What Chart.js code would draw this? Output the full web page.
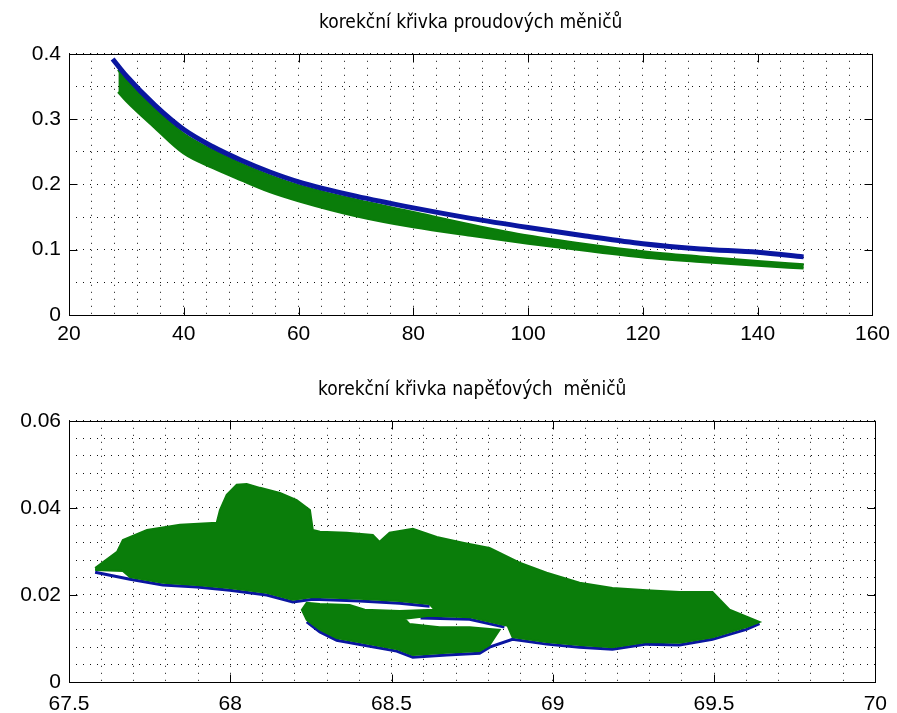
<!DOCTYPE html>
<html>
<head>
<meta charset="utf-8">
<script src="https://cdn.jsdelivr.net/npm/chart.js@4.4.0/dist/chart.umd.min.js"></script>
<style>
  body { margin: 0; background: #fff; }
  #wrap { position: relative; width: 897px; height: 713px; }
  canvas { position: absolute; left: 0; }
  #topChart { top: 0; }
  #bottomChart { top: 356px; }
</style>
</head>
<body>
<div id="wrap">
  <canvas id="topChart" width="897" height="356"></canvas>
  <canvas id="bottomChart" width="897" height="357"></canvas>
</div>
<script>
// ---- top plot: korekční křivka proudových měničů ----
var blueX = [27.6, 30, 35, 40, 45, 50, 55, 60, 70, 80, 90, 100, 110, 120, 130, 140, 148];
var blueY = [0.392, 0.366, 0.321, 0.284, 0.258, 0.237, 0.219, 0.204, 0.182, 0.164, 0.148, 0.134, 0.121, 0.109, 0.101, 0.096, 0.089];

// green band: upper and lower edge on the same x values
var greenX = [28.6, 30, 35, 40, 45, 50, 55, 60, 70, 80, 90, 100, 110, 120, 130, 140, 148];
var greenTopY = [0.376, 0.360, 0.314, 0.277, 0.252, 0.231, 0.213, 0.198, 0.176, 0.157, 0.138, 0.121, 0.108, 0.097, 0.089, 0.082, 0.077];
var greenBotY = [0.342, 0.328, 0.287, 0.248, 0.226, 0.207, 0.189, 0.175, 0.152, 0.135, 0.122, 0.110, 0.099, 0.089, 0.082, 0.076, 0.072];

var topXMajor = [20, 40, 60, 80, 100, 120, 140, 160];
var topYMajor = [0, 0.1, 0.2, 0.3, 0.4];

// ---- bottom plot: korekční křivka napěťových měničů ----
// outline of the green cloud; two notches run into the gaps between the lobes
var blobX = [67.581, 67.649, 67.667, 67.742, 67.844, 67.958, 67.968, 67.989, 68.020, 68.051, 68.092, 68.154, 68.206, 68.247,
  68.256, 68.278, 68.361, 68.442, 68.463, 68.494, 68.566, 68.640, 68.721, 68.804, 68.897, 68.981, 69.083, 69.185, 69.291,
  69.393, 69.495, 69.548, 69.641, 69.600, 69.495, 69.393, 69.291, 69.185, 69.083, 68.981, 68.875,
  68.860, 68.742, 68.618, 68.541, 68.556, 68.649, 68.742, 68.835,
  68.804, 68.773, 68.671, 68.566, 68.516, 68.411, 68.330, 68.278, 68.237, 68.222, 68.237,
  68.278, 68.370, 68.417, 68.525, 68.634, 68.618, 68.525, 68.401, 68.340,
  68.256, 68.194, 68.113, 67.999, 67.897, 67.791, 67.689, 67.667, 67.581];
var blobY = [0.0262, 0.0299, 0.0326, 0.0349, 0.0361, 0.0366, 0.0395, 0.0430, 0.0453, 0.0455, 0.0446, 0.0434, 0.0418, 0.0395,
  0.0349, 0.0345, 0.0343, 0.0338, 0.0322, 0.0343, 0.0352, 0.0333, 0.0320, 0.0308, 0.0274, 0.0251, 0.0228, 0.0216, 0.0211,
  0.0207, 0.0207, 0.0166, 0.0138, 0.0126, 0.0103, 0.0090, 0.0092, 0.0080, 0.0085, 0.0092, 0.0103,
  0.0129, 0.0149, 0.0152, 0.0145, 0.0133, 0.0126, 0.0126, 0.0120,
  0.0085, 0.0071, 0.0067, 0.0062, 0.0076, 0.0090, 0.0101, 0.0120, 0.0143, 0.0166, 0.0182,
  0.0179, 0.0177, 0.0166, 0.0163, 0.0166, 0.0179, 0.0186, 0.0191, 0.0193,
  0.0195, 0.0189, 0.0205, 0.0216, 0.0223, 0.0228, 0.0241, 0.0255, 0.0257];

// blue rims showing under the green
var rimMainX = [67.581, 67.689, 67.791, 67.897, 67.999, 68.113, 68.194, 68.256, 68.340, 68.401, 68.525, 68.618];
var rimMainY = [0.0252, 0.0236, 0.0223, 0.0218, 0.0211, 0.0200, 0.0184, 0.0190, 0.0188, 0.0186, 0.0181, 0.0174];
var rimMidX = [68.590, 68.742, 68.850];
var rimMidY = [0.0147, 0.0144, 0.0126];
var rimLobeX = [68.237, 68.278, 68.330, 68.411, 68.516, 68.566, 68.671, 68.773, 68.804, 68.875, 68.981, 69.083, 69.185, 69.291, 69.393, 69.495, 69.600, 69.641];
var rimLobeY = [0.0138, 0.0115, 0.0096, 0.0085, 0.0071, 0.0057, 0.0062, 0.0066, 0.0080, 0.0098, 0.0087, 0.0080, 0.0075, 0.0087, 0.0085, 0.0098, 0.0121, 0.0134];

var botXMajor = [67.5, 68, 68.5, 69, 69.5, 70];
var botYMajor = [0, 0.02, 0.04, 0.06];

var BLUE = '#0a16a0';
var GREEN = '#0a7d0a';
var FONT = "'Liberation Sans', Arial, sans-serif";
var TITLE_FONT = "'Liberation Sans Narrow', 'DejaVu Sans Condensed', 'Liberation Sans', sans-serif";

function pts(xs, ys) {
  var out = [];
  for (var i = 0; i < xs.length; i++) out.push({x: xs[i], y: ys[i]});
  return out;
}

function isMajor(v, majors) {
  for (var i = 0; i < majors.length; i++) {
    if (Math.abs(v - majors[i]) < 1e-9) return true;
  }
  return false;
}

function fmt(v) {
  return String(Number(v.toFixed(4)));
}

// box round the axes and MATLAB style ticks pointing inward
var boxPlugin = {
  id: 'matlabBox',
  afterDraw: function (chart, args, opts) {
    var ctx = chart.ctx;
    var a = chart.chartArea;
    var xs = chart.scales.x, ys = chart.scales.y;
    var L = Math.round(a.left) + 0.5, R = Math.round(a.right) + 0.5;
    var T = Math.round(a.top) + 0.5, B = Math.round(a.bottom) + 0.5;
    ctx.save();
    ctx.strokeStyle = '#000';
    ctx.lineWidth = 1;
    ctx.strokeRect(L, T, R - L, B - T);
    ctx.beginPath();
    opts.xMajor.forEach(function (v) {
      var p = Math.round(xs.getPixelForValue(v)) + 0.5;
      ctx.moveTo(p, B); ctx.lineTo(p, B - 8);
      ctx.moveTo(p, T); ctx.lineTo(p, T + 8);
    });
    opts.yMajor.forEach(function (v) {
      var p = Math.round(ys.getPixelForValue(v)) + 0.5;
      ctx.moveTo(L, p); ctx.lineTo(L + 8, p);
      ctx.moveTo(R, p); ctx.lineTo(R - 8, p);
    });
    ctx.stroke();
    ctx.restore();
  }
};

function axisOpts(min, max, step, majors, isY, size, pad) {
  return {
    type: 'linear',
    min: min,
    max: max,
    afterFit: function (scale) {
      if (isY) scale.width = size; else scale.height = size;
    },
    afterBuildTicks: function (scale) {
      var t = [];
      var n = Math.round((max - min) / step);
      for (var i = 0; i <= n; i++) t.push({value: Number((min + i * step).toFixed(6))});
      scale.ticks = t;
    },
    grid: { color: '#111', lineWidth: 1, drawTicks: false },
    border: { display: false, dash: [1, 6] },
    ticks: {
      autoSkip: false,
      maxRotation: 0,
      padding: pad,
      color: '#000',
      font: { family: FONT, size: 21 },
      callback: function (v) { return isMajor(v, majors) ? fmt(v) : ''; }
    }
  };
}

function titleOpts(text, top, bottom) {
  return {
    display: true,
    text: text,
    fullSize: false,
    color: '#000',
    font: { family: TITLE_FONT, size: 19, weight: 'normal' },
    padding: { top: top, bottom: bottom }
  };
}

new Chart(document.getElementById('topChart'), {
  type: 'line',
  data: {
    datasets: [
      { data: pts(blueX, blueY), borderColor: BLUE, borderWidth: 5 },
      { data: pts(greenX, greenTopY), borderColor: GREEN, backgroundColor: GREEN, borderWidth: 3, fill: '+1' },
      { data: pts(greenX, greenBotY), borderColor: GREEN, borderWidth: 3 }
    ]
  },
  options: {
    responsive: false,
    animation: false,
    devicePixelRatio: 1,
    elements: { point: { radius: 0 }, line: { cubicInterpolationMode: 'monotone', fill: false } },
    layout: { padding: { left: 0, right: 22, top: 0, bottom: 0 } },
    scales: {
      x: axisOpts(20, 160, 4, topXMajor, false, 41, 7),
      y: axisOpts(0, 0.4, 0.05, topYMajor, true, 69, 8)
    },
    plugins: {
      legend: { display: false },
      tooltip: { enabled: false },
      title: titleOpts('korekční křivka proudových měničů', 12, 19),
      matlabBox: { xMajor: topXMajor, yMajor: topYMajor }
    }
  },
  plugins: [boxPlugin]
});

new Chart(document.getElementById('bottomChart'), {
  type: 'line',
  data: {
    datasets: [
      { data: pts(blobX, blobY), borderColor: GREEN, backgroundColor: GREEN, borderWidth: 2, fill: 'shape', tension: 0 },
      { data: pts(rimMainX, rimMainY), borderColor: BLUE, borderWidth: 3, tension: 0 },
      { data: pts(rimMidX, rimMidY), borderColor: BLUE, borderWidth: 3, tension: 0 },
      { data: pts(rimLobeX, rimLobeY), borderColor: BLUE, borderWidth: 3, tension: 0 }
    ]
  },
  options: {
    responsive: false,
    animation: false,
    devicePixelRatio: 1,
    elements: { point: { radius: 0 } },
    layout: { padding: { left: 0, right: 21, top: 0, bottom: 0 } },
    scales: {
      x: axisOpts(67.5, 70, 0.1, botXMajor, false, 31, 10),
      y: axisOpts(0, 0.06, 0.004, botYMajor, true, 69, 8)
    },
    plugins: {
      legend: { display: false },
      tooltip: { enabled: false },
      title: titleOpts('korekční křivka napěťových  měničů', 23, 19),
      matlabBox: { xMajor: botXMajor, yMajor: botYMajor }
    }
  },
  plugins: [boxPlugin]
});
</script>
</body>
</html>
